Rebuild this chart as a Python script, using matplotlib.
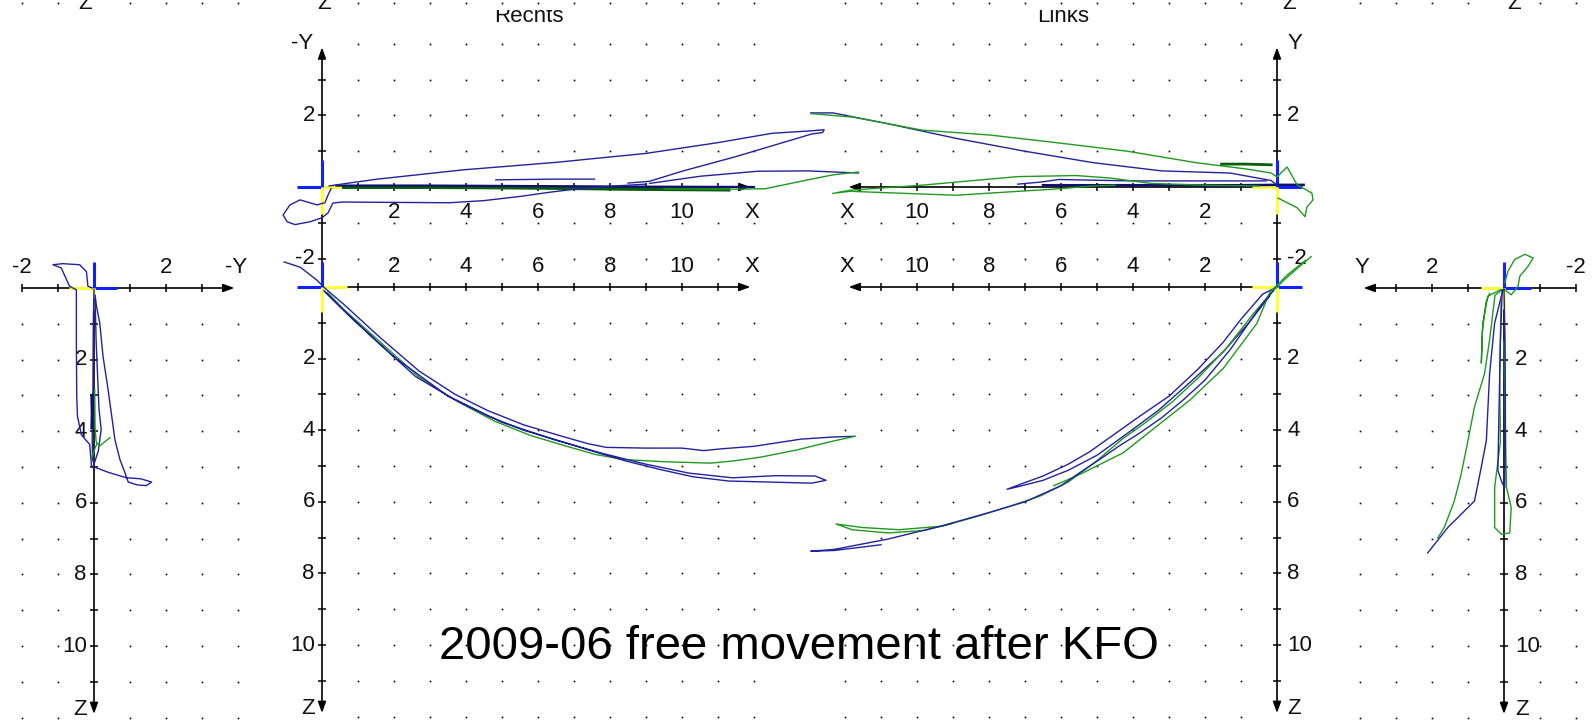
import numpy as np
import matplotlib
matplotlib.use('Agg')
import matplotlib.pyplot as plt
from matplotlib.transforms import Bbox, TransformedBbox

W, H, DPI = 1595, 726, 100
UX, UY = 36.0, 35.8

TITLE = '2009-06 free movement after KFO'
HEADERS = ['Rechts', 'Links']

BLUE = '#22229e'
GREEN = '#1f9a1f'
DKGREEN = '#0a5c0a'
DKBLUE = '#10106e'
CROSS_BLUE = '#1020ff'
CROSS_YEL = '#ffff3a'

# ---------------- data ----------------
# panel 1: side view right leg (u = -Y to the right, v = Z downwards)
sr_blue1_u = [-0.05, -0.17, -0.21, -0.40, -0.87, -1.14, -0.91, -0.68, -0.49, -0.49, -0.48, -0.46, -0.35, -0.12, -0.07,
              0.40, 0.90, 1.30, 1.60, 1.45, 1.20, 0.95, 0.86, 0.72, 0.58, 0.53, 0.39, 0.25, 0.16, 0.07, 0.03]
sr_blue1_v = [0.00, -0.05, -0.46, -0.65, -0.68, -0.65, -0.56, -0.05, 0.05, 1.50, 3.00, 3.58, 4.10, 4.37, 4.97,
              5.15, 5.30, 5.33, 5.42, 5.52, 5.50, 5.42, 5.16, 4.79, 4.23, 3.86, 2.83, 1.90, 0.98, 0.51, 0.20]
sr_blue2_u = [0.00, -0.02, -0.03, -0.05, -0.04, 0.00, 0.12, 0.20, 0.14, 0.06, 0.03]
sr_blue2_v = [0.05, 1.00, 2.83, 4.20, 4.79, 4.92, 4.55, 3.95, 3.40, 1.50, 0.30]
sr_dark_u = [-0.06, -0.05, -0.06]
sr_dark_v = [3.00, 3.50, 3.90]
sr_green1_u = [0.02, 0.03, 0.06, 0.16, 0.44]
sr_green1_v = [2.83, 3.90, 4.30, 4.41, 4.18]
sr_green2_u = [-0.08, 0.00, 0.08]
sr_green2_v = [4.80, 4.55, 4.35]

# panel 2: top view right (u = X to the right, v = -Y upwards)
tr_blue1_x = [0.20, 0.75, 1.54, 3.93, 6.52, 9.01, 11.00, 12.50, 13.60, 13.95, 13.90, 13.60, 11.50, 10.00, 9.10, 8.50]
tr_blue1_v = [0.03, 0.11, 0.22, 0.48, 0.69, 0.94, 1.24, 1.50, 1.57, 1.60, 1.52, 1.48, 0.85, 0.44, 0.16, 0.11]
tr_blue2_x = [0.25, 0.17, 0.08, -0.14, -0.61, -0.89, -1.08, -0.97, -0.75, -0.33, 0.00, 0.17, 0.30, 0.55, 2.00,
              3.54, 4.50, 5.53, 6.30, 7.02, 8.00, 9.00]
tr_blue2_v = [-0.05, -0.22, -0.44, -0.50, -0.36, -0.50, -0.78, -0.97, -1.05, -0.97, -0.86, -0.72, -0.45, -0.42, -0.43,
              -0.44, -0.38, -0.26, -0.15, -0.06, 0.02, 0.08]
tr_blue3_x = [4.83, 6.50, 7.57]
tr_blue3_v = [0.20, 0.22, 0.22]
tr_blue4_x = [9.10, 10.50, 12.10, 13.50, 14.90]
tr_blue4_v = [0.10, 0.30, 0.44, 0.45, 0.39]
tr_green1_x = [9.50, 11.40, 12.30, 13.50, 14.20, 14.90]
tr_green1_v = [-0.05, -0.06, -0.05, 0.20, 0.34, 0.42]
tr_green_axis_x = [0.60, 3.00, 5.00, 7.00, 8.50, 11.30]
tr_green_axis_v = [-0.01, -0.01, -0.02, -0.04, -0.06, -0.08]
tr_blue_axis_x = [0.40, 3.00, 5.00, 7.00, 9.00, 12.00]
tr_blue_axis_v = [0.04, 0.04, 0.03, 0.02, 0.01, 0.00]

# panel 3: front view right (u = X to the right, v = Z downwards)
fr_blue1_x = [-1.05, -0.60, -0.15, 0.10, 0.60, 1.60, 2.70, 3.70, 4.60, 5.60, 6.60, 7.40, 7.90, 9.00, 10.00, 10.60,
              11.10, 12.00, 13.30, 14.20, 14.80]
fr_blue1_z = [-0.70, -0.55, -0.20, 0.05, 0.48, 1.40, 2.35, 3.00, 3.45, 3.85, 4.15, 4.38, 4.48, 4.50, 4.50, 4.57,
              4.52, 4.45, 4.25, 4.19, 4.17]
fr_blue2_x = [0.05, 0.50, 1.50, 2.60, 3.60, 4.60, 5.60, 6.60, 7.40, 8.40, 9.40, 10.30, 11.30, 12.50, 13.60, 14.00,
              13.70, 12.60, 11.40, 10.20, 9.00, 7.80, 6.50, 5.00, 3.50, 2.00, 0.80, 0.10]
fr_blue2_z = [0.10, 0.55, 1.50, 2.50, 3.10, 3.60, 4.00, 4.30, 4.55, 4.85, 5.10, 5.30, 5.42, 5.45, 5.48, 5.40,
              5.28, 5.27, 5.33, 5.20, 4.95, 4.65, 4.28, 3.78, 3.05, 1.95, 0.85, 0.15]
fr_green_x = [0.15, 0.60, 1.60, 2.70, 3.80, 4.80, 5.80, 6.80, 7.60, 8.40, 9.50, 10.80, 11.50, 12.20, 13.20, 14.00, 14.80]
fr_green_z = [0.15, 0.62, 1.52, 2.52, 3.22, 3.75, 4.15, 4.45, 4.68, 4.82, 4.88, 4.92, 4.85, 4.75, 4.55, 4.35, 4.17]

# panel 4: top view left (u = X to the left, v = Y upwards)
tl_blue1_x = [0.00, 0.16, 1.30, 3.21, 5.11, 7.01, 8.92, 10.82, 12.34, 12.95]
tl_blue1_v = [0.05, 0.18, 0.39, 0.45, 0.68, 1.00, 1.36, 1.77, 2.07, 2.07]
tl_green1_x = [12.95, 11.77, 9.87, 7.96, 6.06, 4.16, 2.25, 0.83, 0.16, 0.00, -0.28, -0.56, -0.97, -1.00, -0.83,
               -0.78, -0.56, -0.03]
tl_green1_v = [2.05, 1.95, 1.59, 1.45, 1.23, 1.00, 0.68, 0.50, 0.39, 0.28, 0.56, 0.06, -0.17, -0.36, -0.56,
               -0.83, -0.58, -0.31]
tl_green2_x = [1.54, 0.90, 0.16]
tl_green2_v = [0.64, 0.64, 0.62]
tl_blue_axis_x = [-0.74, 0.00, 1.00, 3.00, 5.00, 6.50]
tl_blue_axis_v = [0.06, 0.06, 0.05, 0.05, 0.05, 0.05]
tl_blue2_x = [0.30, 2.00, 4.00, 5.60, 6.06, 6.54, 7.20]
tl_blue2_v = [0.17, 0.17, 0.17, 0.20, 0.21, 0.14, 0.08]
tl_green3_x = [0.50, 2.00, 3.50, 4.63, 5.58, 7.20, 8.44, 9.87, 11.86, 12.34]
tl_green3_v = [0.03, 0.05, 0.10, 0.25, 0.32, 0.29, 0.18, 0.05, -0.09, -0.18]
tl_green4_x = [4.50, 5.11, 6.06, 7.49, 8.92, 10.82, 11.86, 12.20]
tl_green4_v = [0.05, 0.03, -0.05, -0.14, -0.23, -0.16, -0.12, -0.16]

# panel 5: front view left (u = X to the left, v = Z downwards)
fl_blue1_x = [0.00, 0.40, 1.00, 1.50, 2.20, 3.00, 3.80, 4.50, 5.20, 5.80, 6.50, 7.10, 7.50, 7.20, 6.50, 5.80,
              5.00, 4.20, 3.30, 2.40, 1.50, 0.80, 0.20]
fl_blue1_z = [0.00, 0.20, 0.90, 1.55, 2.30, 3.05, 3.60, 4.10, 4.60, 4.95, 5.28, 5.50, 5.65, 5.58, 5.40, 5.12,
              4.70, 4.12, 3.45, 2.65, 1.82, 1.02, 0.25]
fl_blue2_x = [0.10, 0.50, 1.30, 2.00, 2.60, 3.20, 3.80, 4.40, 4.90, 5.50, 6.00, 7.00, 8.00, 9.30, 10.80, 12.30,
              12.95, 12.30, 11.00]
fl_blue2_z = [0.10, 0.60, 1.75, 2.60, 3.15, 3.65, 4.07, 4.45, 4.80, 5.20, 5.55, 6.00, 6.30, 6.67, 7.04, 7.33,
              7.38, 7.36, 7.20]
fl_green1_x = [-0.95, -0.60, -0.20, 0.20, 0.70, 1.40, 2.20, 2.90, 3.60, 4.30, 5.00, 5.80, 6.60, 7.50, 8.30, 9.30,
               10.50, 11.50, 12.25, 11.80, 10.80, 9.80, 9.00]
fl_green1_z = [-0.85, -0.55, -0.20, 0.20, 0.80, 1.70, 2.55, 3.20, 3.75, 4.25, 4.85, 5.45, 5.85, 6.15, 6.40, 6.68,
               6.78, 6.72, 6.62, 6.78, 6.87, 6.80, 6.60]
fl_green2_x = [-0.80, -0.30, 0.20, 0.56, 1.49, 2.41, 3.34, 4.27, 5.01, 5.57, 6.20]
fl_green2_z = [-0.75, -0.35, 0.15, 1.02, 2.27, 3.15, 3.89, 4.63, 5.00, 5.28, 5.55]

# panel 6: side view left leg (u = Y to the left, v = Z downwards)
sl_green1_u = [-0.02, -0.11, -0.30, -0.58, -0.81, -0.67, -0.44, -0.39, -0.20, -0.02]
sl_green1_v = [-0.14, -0.47, -0.80, -0.94, -0.84, -0.61, -0.33, -0.05, 0.19, 0.05]
sl_blue1_u = [0.03, 0.26, 0.40, 0.49, 0.63, 0.82, 1.19, 1.56, 2.12]
sl_blue1_v = [0.05, 0.98, 2.39, 4.26, 5.00, 5.95, 6.32, 6.69, 7.40]
sl_blue2_u = [0.05, 0.10, 0.14, 0.17, 0.05, -0.02, -0.04, -0.03, 0.00]
sl_blue2_v = [0.05, 1.50, 3.50, 5.10, 5.45, 5.57, 4.00, 1.50, 0.05]
sl_green2_u = [0.00, 0.25, 0.40, 0.54, 0.82, 1.00, 1.19, 1.38, 1.66, 1.84]
sl_green2_v = [0.02, 0.20, 1.45, 2.39, 3.32, 4.26, 5.20, 5.95, 6.69, 6.98]
sl_green3_u = [0.10, 0.45, 0.59, 0.63, 0.60, 0.50, 0.40]
sl_green3_v = [0.05, 0.23, 0.98, 2.10, 1.20, 0.40, 0.15]
sl_green4_u = [0.08, 0.12, 0.10, 0.26, 0.26, 0.07, -0.16, -0.20, -0.07, -0.04, 0.00]
sl_green4_v = [0.40, 2.39, 4.30, 5.57, 6.69, 6.88, 6.84, 6.13, 5.57, 4.00, 1.50]

# tick labels
Z_LABELS = [2, 4, 6, 8, 10]
X_LABELS = [2, 4, 6, 8, 10]

# ---------------- figure ----------------
fig = plt.figure(figsize=(W / DPI, H / DPI), dpi=DPI)
fig.patch.set_facecolor('white')

LBL = dict(family=['Liberation Sans', 'DejaVu Sans'], fontsize=16, color='#111111')


def make_panel(ox, oy, sx, sy, urange, vrange):
    u0, u1 = urange
    v0, v1 = vrange
    xa, xb = ox + sx * u0 * UX, ox + sx * u1 * UX
    ya, yb = oy + sy * v0 * UY, oy + sy * v1 * UY
    left, right = min(xa, xb), max(xa, xb)
    top, bottom = min(ya, yb), max(ya, yb)
    ax = fig.add_axes([left / W, 1 - bottom / H, (right - left) / W, (bottom - top) / H])
    ax.set_xlim((u0, u1) if sx > 0 else (u1, u0))
    ax.set_ylim((v1, v0) if sy > 0 else (v0, v1))
    ax.axis('off')
    ax.patch.set_alpha(0)
    return ax


def axis_line(ax, p0, p1, arrow=True):
    if arrow:
        ax.annotate('', xy=p1, xytext=p0, annotation_clip=False,
                    arrowprops=dict(arrowstyle='-|>,head_length=0.55,head_width=0.2', color='black',
                                    lw=1.2, shrinkA=0, shrinkB=0, mutation_scale=12))
    else:
        ax.plot([p0[0], p1[0]], [p0[1], p1[1]], color='black', lw=1.2, clip_on=False)


def hticks(ax, us):
    ax.plot(us, np.zeros(len(us)), ls='none', marker='|', ms=5.5, mew=1.1, color='black', clip_on=False)


def vticks(ax, vs):
    ax.plot(np.zeros(len(vs)), vs, ls='none', marker='_', ms=5.5, mew=1.1, color='black', clip_on=False)


def dots(ax, us, vs):
    U, V = np.meshgrid(us, vs)
    ax.plot(U.ravel(), V.ravel(), ls='none', marker='s', ms=1.2, mew=0, color='black', clip_on=False)


def cross(ax, h_yel, h_blue, v_yel, v_blue):
    ax.plot(h_blue, [0, 0], color=CROSS_BLUE, lw=2.2, clip_on=False, solid_capstyle='butt', zorder=3)
    ax.plot(h_yel, [0, 0], color=CROSS_YEL, lw=2.2, clip_on=False, solid_capstyle='butt', zorder=3)
    ax.plot([0, 0], v_blue, color=CROSS_BLUE, lw=2.2, clip_on=False, solid_capstyle='butt', zorder=3)
    ax.plot([0, 0], v_yel, color=CROSS_YEL, lw=2.2, clip_on=False, solid_capstyle='butt', zorder=3)


def curve(ax, u, v, color, lw=1.0):
    ax.plot(u, v, color=color, lw=lw, clip_on=False, zorder=5, solid_joinstyle='round')


grid_side = [-2, -1, 1, 2, 3, 4]
grid_long = list(range(1, 13))
rows_z = list(range(1, 13))
rows_top = [-2, -1, 1, 2, 3, 4]

# ---- panel 1 ----
p1 = make_panel(94, 288, +1, +1, (-3, 5), (-9, 13))
dots(p1, grid_side, rows_z)
dots(p1, grid_side, [-7.95])
axis_line(p1, (-2, 0), (3.9, 0))
hticks(p1, [-2, -1, 0, 1, 2, 3])
axis_line(p1, (0, 0), (0, 11.9))
vticks(p1, list(range(1, 12)))
for u, s in [(-2, '-2'), (2, '2'), (3.95, '-Y')]:
    p1.text(u, -0.58, s, ha='center', va='center', **LBL)
for z in Z_LABELS:
    p1.text(-0.2, z, str(z), ha='right', va='center', **LBL)
p1.text(-0.2, 11.78, 'Z', ha='right', va='center', **LBL)
cross(p1, [-0.7, 0], [0, 0.65], [0, 0.58], [-0.72, 0])
curve(p1, sr_blue1_u, sr_blue1_v, BLUE)
curve(p1, sr_blue2_u, sr_blue2_v, BLUE)
curve(p1, sr_dark_u, sr_dark_v, DKBLUE, lw=2.2)
curve(p1, sr_green1_u, sr_green1_v, GREEN)
curve(p1, sr_green2_u, sr_green2_v, GREEN)

# ---- panel 2 ----
p2 = make_panel(322, 187, +1, -1, (-2, 16), (-3, 6))
dots(p2, grid_long, rows_top)
dots(p2, grid_long, [5.15])
axis_line(p2, (0, 0), (11.9, 0))
hticks(p2, list(range(0, 12)))
axis_line(p2, (0, -2.78), (0, 3.9))
vticks(p2, [-2, -1, 1, 2, 3])
for x in X_LABELS:
    p2.text(x, -0.7, str(x), ha='center', va='center', **LBL)
p2.text(11.95, -0.7, 'X', ha='center', va='center', **LBL)
for v, s in [(2, '2'), (-2, '-2')]:
    p2.text(-0.2, v, s, ha='right', va='center', **LBL)
p2.text(-0.25, 4.0, '-Y', ha='right', va='center', **LBL)
cross(p2, [0, 0.7], [-0.7, 0], [-0.75, 0], [0, 0.75])
curve(p2, tr_green_axis_x, tr_green_axis_v, DKGREEN, lw=2.4)
curve(p2, tr_blue_axis_x, tr_blue_axis_v, DKBLUE, lw=1.6)
curve(p2, tr_blue1_x, tr_blue1_v, BLUE)
curve(p2, tr_blue2_x, tr_blue2_v, BLUE)
curve(p2, tr_blue3_x, tr_blue3_v, BLUE)
curve(p2, tr_blue4_x, tr_blue4_v, BLUE)
curve(p2, tr_green1_x, tr_green1_v, GREEN)

# ---- panel 3 ----
p3 = make_panel(322, 287, +1, +1, (-2, 16), (-1, 13))
dots(p3, grid_long, rows_z)
axis_line(p3, (0, 0), (11.9, 0))
hticks(p3, list(range(0, 12)))
axis_line(p3, (0, 0), (0, 11.9))
vticks(p3, list(range(1, 12)))
for x in X_LABELS:
    p3.text(x, -0.56, str(x), ha='center', va='center', **LBL)
p3.text(11.95, -0.56, 'X', ha='center', va='center', **LBL)
for z in Z_LABELS:
    p3.text(-0.2, z, str(z), ha='right', va='center', **LBL)
p3.text(-0.2, 11.78, 'Z', ha='right', va='center', **LBL)
cross(p3, [0, 0.7], [-0.7, 0], [0, 0.7], [-0.7, 0])
curve(p3, fr_blue1_x, fr_blue1_z, BLUE)
curve(p3, fr_green_x, fr_green_z, GREEN)
curve(p3, fr_blue2_x, fr_blue2_z, BLUE)

# ---- panel 4 ----
p4 = make_panel(1277, 187, -1, -1, (-2, 16), (-3, 6))
dots(p4, grid_long, rows_top)
dots(p4, grid_long, [5.15])
axis_line(p4, (0, 0), (11.9, 0))
hticks(p4, list(range(0, 12)))
axis_line(p4, (0, -2.78), (0, 3.9))
vticks(p4, [-2, -1, 1, 2, 3])
for x in X_LABELS:
    p4.text(x, -0.7, str(x), ha='center', va='center', **LBL)
p4.text(11.95, -0.7, 'X', ha='center', va='center', **LBL)
for v, s in [(2, '2'), (-2, '-2')]:
    p4.text(-0.28, v, s, ha='left', va='center', **LBL)
p4.text(-0.28, 4.0, 'Y', ha='left', va='center', **LBL)
cross(p4, [0, 0.7], [-0.7, 0], [-0.75, 0], [0, 0.75])
curve(p4, tl_blue_axis_x, tl_blue_axis_v, DKBLUE, lw=1.8)
curve(p4, tl_blue1_x, tl_blue1_v, BLUE)
curve(p4, tl_blue2_x, tl_blue2_v, BLUE)
curve(p4, tl_green1_x, tl_green1_v, GREEN)
curve(p4, tl_green2_x, tl_green2_v, DKGREEN, lw=2.0)
curve(p4, tl_green3_x, tl_green3_v, GREEN)
curve(p4, tl_green4_x, tl_green4_v, GREEN)

# ---- panel 5 ----
p5 = make_panel(1277, 287, -1, +1, (-2, 16), (-1, 13))
dots(p5, grid_long, rows_z)
axis_line(p5, (0, 0), (11.9, 0))
hticks(p5, list(range(0, 12)))
axis_line(p5, (0, 0), (0, 11.9))
vticks(p5, list(range(1, 12)))
for x in X_LABELS:
    p5.text(x, -0.56, str(x), ha='center', va='center', **LBL)
p5.text(11.95, -0.56, 'X', ha='center', va='center', **LBL)
for z in Z_LABELS:
    p5.text(-0.28, z, str(z), ha='left', va='center', **LBL)
p5.text(-0.28, 11.78, 'Z', ha='left', va='center', **LBL)
cross(p5, [0, 0.7], [-0.7, 0], [0, 0.7], [-0.7, 0])
curve(p5, fl_blue1_x, fl_blue1_z, BLUE)
curve(p5, fl_green2_x, fl_green2_z, GREEN)
curve(p5, fl_green1_x, fl_green1_z, GREEN)
curve(p5, fl_blue2_x, fl_blue2_z, BLUE)

# ---- panel 6 ----
p6 = make_panel(1504, 288, -1, +1, (-3, 5), (-9, 13))
dots(p6, grid_side, rows_z)
dots(p6, grid_side, [-7.95])
axis_line(p6, (-2, 0), (3.9, 0))
hticks(p6, [-2, -1, 0, 1, 2, 3])
axis_line(p6, (0, 0), (0, 11.9))
vticks(p6, list(range(1, 12)))
for u, s in [(-2, '-2'), (2, '2'), (3.95, 'Y')]:
    p6.text(u, -0.58, s, ha='center', va='center', **LBL)
for z in Z_LABELS:
    p6.text(-0.3, z, str(z), ha='left', va='center', **LBL)
p6.text(-0.3, 11.78, 'Z', ha='left', va='center', **LBL)
cross(p6, [0, 0.65], [-0.75, 0], [0, 0.58], [-0.72, 0])
curve(p6, sl_green1_u, sl_green1_v, GREEN)
curve(p6, sl_green2_u, sl_green2_v, GREEN)
curve(p6, sl_green3_u, sl_green3_v, GREEN)
curve(p6, sl_green4_u, sl_green4_v, GREEN)
curve(p6, sl_blue1_u, sl_blue1_v, BLUE)
curve(p6, sl_blue2_u, sl_blue2_v, BLUE)

# ---- page texts ----
bg = fig.add_axes([0, 0, 1, 1], zorder=10)
bg.set_xlim(0, W)
bg.set_ylim(H, 0)
bg.axis('off')
bg.patch.set_alpha(0)
clip = TransformedBbox(Bbox.from_extents(0, 0, 1, (H - 10) / H), fig.transFigure)
for x, s in [(529, HEADERS[0]), (1063, HEADERS[1])]:
    t = bg.text(x, 22, s, ha='center', va='baseline', clip_on=True, **LBL)
    t.set_clip_box(clip)
for x, ha in [(92, 'right'), (331, 'right'), (1282, 'left'), (1507, 'left')]:
    bg.text(x, 9, 'Z', ha=ha, va='baseline', **LBL)
bg.text(799, 647, TITLE, ha='center', va='center', family=['Liberation Sans', 'DejaVu Sans'],
        fontsize=34, color='black')

fig.savefig('out.png', dpi=DPI, facecolor='white')
